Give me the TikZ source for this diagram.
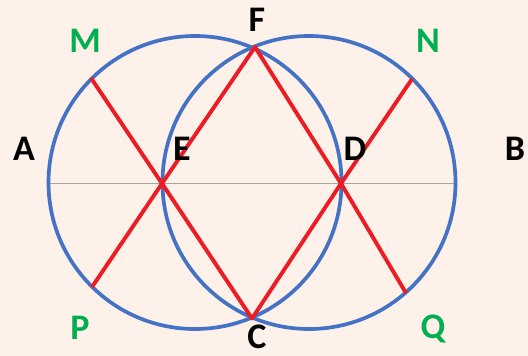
\documentclass[tikz,border=0pt]{standalone}
\usepackage{fontspec}
\setmainfont{Carlito}
\definecolor{bg}{HTML}{FDF1EA}
\definecolor{cblue}{HTML}{4472C4}
\definecolor{cred}{HTML}{ED1C24}
\definecolor{cgreen}{HTML}{00B050}
\definecolor{cgray}{HTML}{A6A6A6}
\tikzset{
  circ/.style={draw=cblue, line width=3.7pt},
  redline/.style={draw=cred, line width=3.9pt},
  axis/.style={draw=cgray, line width=1.5pt},
  lbl/.style={font=\fontsize{36}{36}\selectfont\bfseries, inner sep=0pt, text=black},
  glbl/.style={lbl, text=cgreen},
}
\begin{document}
\begin{tikzpicture}[x=1pt,y=-1pt]
\fill[bg] (0,0) rectangle (528,356);
\useasboundingbox (0,0) rectangle (528,356);
% points
\coordinate (LA) at (48,183.5);
\coordinate (LB) at (456,183.5);
\coordinate (pE) at (162,183.5);
\coordinate (pD) at (341,183.5);
\coordinate (pF) at (255,47);
\coordinate (pC) at (252,318.5);
\coordinate (pM) at (91,78);
\coordinate (pP) at (92,287);
\coordinate (pN) at (412,79);
\coordinate (pQ) at (406,293);
% axis
\draw[axis] (LA) -- (LB);
% circles
\draw[circ] (195,182.5) circle (146.5);
\draw[circ] (309,182.5) circle (146.5);
% red lines
\draw[redline, line join=round] (pM) -- (pE) -- (pC) -- (pD) -- (pN);
\draw[redline, line join=round] (pP) -- (pE) -- (pF) -- (pD) -- (pQ);
% labels
\node[glbl] (M) at (85,41) {M};
\node[glbl] (N) at (428,41) {N};
\node[glbl] (P) at (80,328) {P};
\node[glbl] (Q) at (433,329) {Q};
\node[lbl] (F) at (257,20) {F};
\node[lbl] (C) at (257,337) {C};
\node[lbl] (A) at (24,149) {A};
\node[lbl] (B) at (515,149) {B};
\node[lbl] (E) at (182,149) {E};
\node[lbl] (D) at (355,149) {D};
\end{tikzpicture}
\end{document}
